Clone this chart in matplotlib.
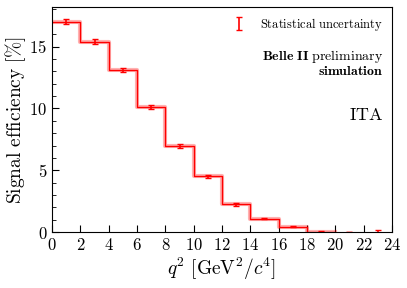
import matplotlib.pyplot as plt
import numpy as np
from matplotlib.ticker import MultipleLocator, FuncFormatter

plt.rcParams["mathtext.fontset"] = "cm"
plt.rcParams["font.family"] = "serif"

bin_edges = [0, 2, 4, 6, 8, 10, 12, 14, 16, 18, 20, 22, 24]
efficiency = [17.0, 15.37, 13.1, 10.1, 6.97, 4.52, 2.24, 1.1, 0.43, 0.05, 0.02, 0.0]
stat_err = [0.22, 0.2, 0.2, 0.18, 0.15, 0.13, 0.09, 0.07, 0.05, 0.03, 0.02, 0.15]

centers = [(a + b) / 2 for a, b in zip(bin_edges[:-1], bin_edges[1:])]

fig = plt.figure(figsize=(4.07, 2.88), dpi=100)
ax = fig.add_axes([0.128, 0.194, 0.835, 0.782])

yvals = efficiency + [efficiency[-1]]
ax.step(bin_edges[:-2], yvals[:-2], where="post", color="red", lw=3, alpha=0.3)
ax.step(bin_edges[:-2], yvals[:-2], where="post", color="red", lw=1)
ax.errorbar(centers, efficiency, yerr=stat_err, fmt="none", ecolor="red",
            elinewidth=1.2, capsize=2, capthick=1, label="Statistical uncertainty")

ax.set_xlim(0, 24)
ax.set_ylim(0, 18.2)
ax.xaxis.set_major_locator(MultipleLocator(2))
ax.yaxis.set_major_locator(MultipleLocator(5))
ax.yaxis.set_minor_locator(MultipleLocator(1))
fmt = FuncFormatter(lambda v, p: r"$\mathrm{%d}$" % v)
ax.xaxis.set_major_formatter(fmt)
ax.yaxis.set_major_formatter(fmt)
ax.tick_params(direction="in", which="both", labelsize=12)
ax.tick_params(which="major", length=5)
ax.tick_params(which="minor", length=3)

ax.set_xlabel(r"$q^2\ [\mathrm{GeV}^2/c^4]$", fontsize=14, labelpad=1)
ax.set_ylabel(r"$\mathrm{Signal\ efficiency\ [\%]}$", fontsize=14, labelpad=1)

leg = ax.legend(loc="upper right", frameon=False,
                handlelength=1.0, handletextpad=1.2, borderaxespad=0.3,
                prop={"family": "serif", "size": 9})
leg.get_texts()[0].set_text(r"$\mathrm{Statistical\ uncertainty}$")

ax.text(0.975, 0.78, r"$\mathbf{Belle\ II}\ \mathrm{preliminary}$",
        transform=ax.transAxes, ha="right", va="center", fontsize=10)
ax.text(0.975, 0.715, r"$\mathbf{simulation}$",
        transform=ax.transAxes, ha="right", va="center", fontsize=10)
ax.text(0.975, 0.52, r"$\mathrm{ITA}$",
        transform=ax.transAxes, ha="right", va="center", fontsize=13)

plt.savefig("out.png", dpi=100)
